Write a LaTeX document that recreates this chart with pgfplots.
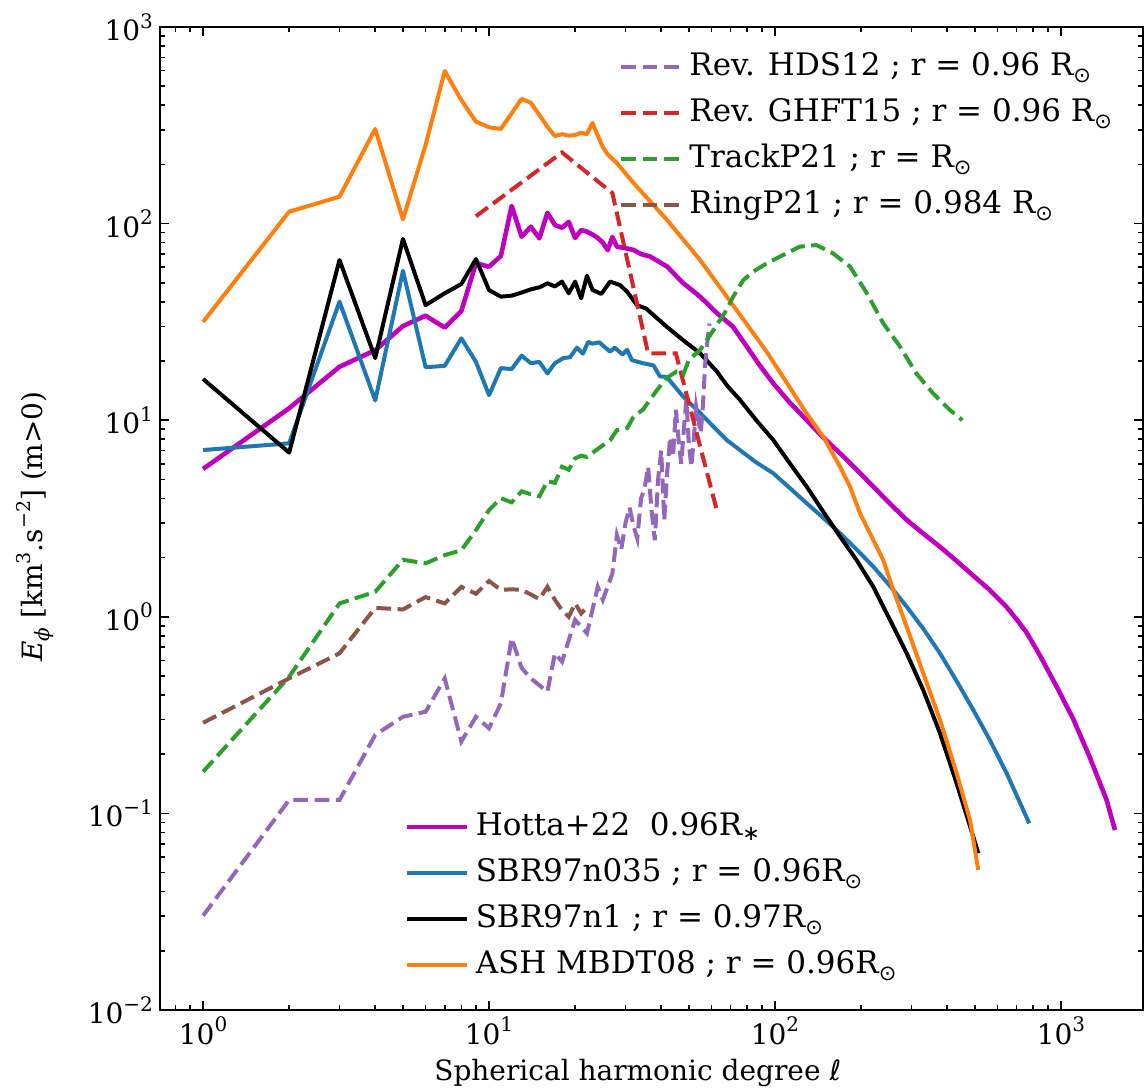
\documentclass[border=0pt]{standalone}
\usepackage{fontspec}
\setmainfont{DejaVu Serif}
\newfontfamily\dvs{DejaVu Sans}
\usepackage{pgfplots}
\pgfplotsset{compat=1.18}
\definecolor{cmag}{HTML}{BF00BF}
\definecolor{tblue}{HTML}{1F77B4}
\definecolor{torange}{HTML}{FF7F0E}
\definecolor{tpurple}{HTML}{9467BD}
\definecolor{tred}{HTML}{D62728}
\definecolor{tgreen}{HTML}{2CA02C}
\definecolor{tbrown}{HTML}{8C564B}
\newcommand{\sups}[1]{\raisebox{0.85ex}{\fontsize{10}{10}\selectfont #1}}
\newcommand{\lsup}[1]{\raisebox{0.8ex}{\fontsize{9.5}{9.5}\selectfont #1}}
\newcommand{\Rs}{R\raisebox{-0.45ex}{\dvs\fontsize{10.5}{10.5}\selectfont ⊙}}
\newcommand{\Rst}{R\raisebox{-0.3ex}{\dvs\fontsize{10.5}{10.5}\selectfont ∗}}
\tikzset{mysol/.style={line width=2pt, line join=round},
 mydsh/.style={line width=2pt, dash pattern=on 7.4pt off 3.2pt}}
\begin{document}
\begin{tikzpicture}
\begin{axis}[name=main,
  scale only axis, width=491.5pt, height=491.5pt,
  xmode=log, ymode=log,
  xmin=0.707, xmax=1936, ymin=1e-2, ymax=1e3,
  legend cell align=left,
  legend image code/.code={\draw[#1] (0pt,0pt) -- (30pt,0pt);},
  legend style={draw=none, fill=none, inner sep=0pt, row sep=6.5pt,
   font=\fontsize{15.5}{17}\selectfont,
   nodes={inner xsep=3pt, inner ysep=1pt, text height=11.5pt, text depth=3pt},
   at={(0.249,0.2034)}, anchor=north west},
  axis line style={line width=1pt},
  tick style={black, line width=0.8pt},
  major tick length=4.5pt, minor tick length=2.5pt,
  tick align=inside,
  xtick={1,10,100,1000},
  xticklabels={10\sups{0},10\sups{1},10\sups{2},10\sups{3}},
  minor xtick={0.8,0.9,2,3,4,5,6,7,8,9,20,30,40,50,60,70,80,90,200,300,400,500,600,700,800,900},
  ytick={0.01,0.1,1,10,100,1000},
  yticklabels={10\sups{−2},10\sups{−1},10\sups{0},10\sups{1},10\sups{2},10\sups{3}},
  minor ytick={0.02,0.03,0.04,0.05,0.06,0.07,0.08,0.09,0.2,0.3,0.4,0.5,0.6,0.7,0.8,0.9,2,3,4,5,6,7,8,9,20,30,40,50,60,70,80,90,200,300,400,500,600,700,800,900},
  ticklabel style={font=\fontsize{14}{16}\selectfont},
  xlabel={Spherical harmonic degree {\dvs ℓ}},
  ylabel={\textit{E}\raisebox{-0.5ex}{\fontsize{10}{10}\selectfont\textit{ϕ}} [km\lsup{3}.s\lsup{−2}] (m>0)},
  label style={font=\fontsize{14}{16}\selectfont},
  xlabel style={at={(axis description cs:0.486,-0.064)}, anchor=center},
  ylabel style={at={(axis description cs:-0.127,0.492)}, anchor=center},
]
% Hotta+22
\addplot[mysol, line width=2.3pt, cmag] coordinates {
(1,5.65)(2,11.5)(3,18.7)(4,22.7)(5,30.1)(6,34.0)(7,29.6)(8,35.9)(9,62.8)(10,60.4)
(11,68.4)(12,123)(13,85.8)(14,96.4)(15,84.2)(16,113.5)(17,98.4)(18,95.3)(19,102)(20,84.5)
(21,92.7)(22,91)(23,88)(24,84.5)(25,80)(26,73.3)(27,85.5)(28,76.3)(30,75)(32,73.5)
(34,70)(36.6,68)(42,60.4)(47.6,50)(54.7,42.5)(62.7,35)(71.3,29.9)(80,23.5)(88,19.2)
(98.6,15.4)(112,12.4)(129.1,10.0)(147,8.2)(168.8,6.79)(193,5.6)(220.7,4.59)(253,3.75)
(288.8,3.11)(330,2.65)(377.6,2.27)(432,1.92)(493.6,1.62)(560,1.38)(645.8,1.12)
(700,0.97)(759,0.83)(844.8,0.635)(966,0.441)(1104,0.302)(1263,0.192)(1444,0.117)(1545,0.0823)};
\addlegendentry{Hotta+22\ \ 0.96\Rst}
% SBR97n035
\addplot[mysol, tblue] coordinates {
(1,7.05)(2,7.63)(3,40.1)(4,12.6)(5,57.5)(6,18.6)(7,18.9)(8,26.1)(9,19.8)(10,13.4)
(11,18.4)(12,18.2)(13,21.3)(14,19.5)(15,19.8)(16,17.3)(17,19.5)(18.2,20.7)(19.2,20.9)
(20.3,23.4)(21.3,21.8)(22.2,25)(23,24.5)(24.3,24.9)(26.5,22.3)(27.5,23.4)(29.3,21.6)
(30.4,22.8)(31.6,20.2)(34.5,19.5)(37.6,19)(39.6,16.7)(41.8,16.6)(47.7,13.2)(54.7,10.9)
(62.6,8.9)(68,7.9)(75.4,7.05)(86,6.1)(98.6,5.37)(113,4.5)(129.1,3.78)(147,3.2)(168.8,2.66)
(193,2.2)(220.7,1.80)(253,1.43)(288.8,1.126)(330,0.87)(377.6,0.652)(432,0.47)(493.6,0.336)
(565,0.235)(645.8,0.160)(775,0.089)};
\addlegendentry{SBR97n035 ; r = 0.96\Rs}
% SBR97n1
\addplot[mysol, black] coordinates {
(1,16.2)(2,6.84)(3,65.3)(4,20.7)(5,83.6)(6,38.5)(7,44.2)(8,49.3)(9,66.0)(10,45.9)
(11,42.5)(12,43.0)(13,44.6)(14,46.3)(15,47.4)(16,49.7)(17,47.9)(18,50.7)(19,44.2)(20,50.7)
(21,41.7)(22,54.3)(23,46)(24.7,43.9)(26.5,50.7)(28.7,48.7)(30.4,45)(32.9,38.5)(35.4,37)
(41.8,29.9)(47.6,25.6)(54.7,21.9)(62.6,17.7)(68,15.0)(75.4,12.7)(86,10.0)(98.6,7.93)
(113,6.0)(129.1,4.59)(147,3.45)(168.8,2.56)(193.1,1.94)(220.7,1.42)(252.5,0.963)
(288.8,0.652)(329.9,0.424)(377.6,0.2556)(431.8,0.142)(493.6,0.0761)(513.7,0.0627)};
\addlegendentry{SBR97n1 ; r = 0.97\Rs}
% ASH MBDT08
\addplot[mysol, torange] coordinates {
(1,31.6)(2,115)(3,137)(4,303)(5,105)(6,251)(7,597)(8,425)(9,330)(10,309)
(11,303)(12,364)(13,431)(14,412)(15,357)(16,311)(17,279)(18,285)(19,280)(20,282)
(21,290)(22,285)(23,325)(24,280)(25,245)(26,225)(28,203)(32,161)(42,104)(54.7,65.3)
(71.3,38.5)(93.7,22.2)(108.4,16.0)(129.1,10.8)(147.5,8.24)(168.8,5.80)(182.9,4.59)
(198.3,3.36)(220.7,2.46)(239.2,1.94)(259.2,1.37)(288.8,0.890)(329.9,0.516)(377.6,0.2987)
(431.8,0.160)(480.7,0.0926)(513.7,0.0516)};
\addlegendentry{ASH MBDT08 ; r = 0.96\Rs}
\end{axis}
\begin{axis}[hide axis,
  scale only axis, width=491.5pt, height=491.5pt,
  xmode=log, ymode=log,
  xmin=0.707, xmax=1936, ymin=1e-2, ymax=1e3,
  legend cell align=left,
  legend image code/.code={\draw[#1] (0pt,0pt) -- (30pt,0pt);},
  legend style={draw=none, fill=none, inner sep=0pt, row sep=6.5pt,
   font=\fontsize{15.5}{17}\selectfont,
   nodes={inner xsep=3pt, inner ysep=1pt, text height=11.5pt, text depth=3pt},
   at={(0.467,0.9766)}, anchor=north west}]
% Rev. HDS12
\addplot[mydsh, tpurple] coordinates {
(1,0.0302)(2,0.117)(3,0.117)(4,0.251)(5,0.310)(6,0.329)(7,0.486)(8,0.232)(9,0.310)(10,0.271)
(11,0.363)(12,0.778)(13,0.55)(14,0.486)(16,0.416)(17,0.652)(18,0.591)(20,0.964)(22,0.824)
(24,1.42)(25,1.22)(27,1.66)(28,2.6)(29,2.2)(30,3.0)(31,3.6)(32,2.9)(33,2.5)(34,4.0)(35,4.5)
(36,5.8)(37,3.5)(38,2.45)(39,5.0)(40,7.0)(41,3.1)(42,5.5)(43,8.2)(44,6.5)(45,11.3)(46,8.0)
(47,6.0)(48,9.0)(49,12.7)(50,7.5)(51,5.8)(52,8.0)(53,11.7)(54,10.0)(55,8.6)(56,12.0)
(57,19.4)(58,25)(59,31)};
\addlegendentry{Rev. HDS12 ; r = 0.96 \Rs}
% Rev. GHFT15
\addplot[mydsh, tred] coordinates {(9,109)(18,230)(27,143)(36,21.9)(45,21.9)(63,3.36)};
\addlegendentry{Rev. GHFT15 ; r = 0.96 \Rs}
% TrackP21
\addplot[mydsh, tgreen] coordinates {
(1,0.163)(2,0.495)(3,1.17)(4,1.34)(5,1.95)(6,1.87)(7,2.06)(8,2.18)(9,2.76)(10,3.49)
(11,4.01)(12,3.82)(13,4.35)(14,4.2)(15,4.1)(16,4.9)(17,4.8)(18,5.8)(19,5.6)(20,6.4)
(21,6.6)(22,6.5)(24.5,7.3)(26.5,7.9)(28,8.9)(30.4,9.1)(32,10.4)(34.5,11.3)(38.5,14.1)
(41.8,16.4)(45.3,17.7)(47.8,17.1)(50,20.3)(54.7,22.7)(61,28.8)(67.7,36.4)(71.4,42.5)
(77.5,51.6)(83.8,56.9)(93.6,62.8)(106.7,69.2)(122,76.3)(139.5,77.8)(159.5,70.6)(183,60.4)
(209.6,44.2)(239,31.1)(273.5,23.7)(312,17.3)(357,13.7)(408,11.3)(452,10.0)};
\addlegendentry{TrackP21 ; r = \Rs}
% RingP21
\addplot[mydsh, tbrown] coordinates {
(1,0.289)(2,0.486)(3,0.652)(4,1.11)(5,1.09)(6,1.26)(7,1.17)(8,1.42)(9,1.31)(10,1.52)
(11,1.37)(12,1.38)(13,1.37)(14,1.30)(15,1.23)(16,1.42)(17,1.22)(18,1.08)(19,1.00)(20,1.17)
(21,1.04)(22,1.12)};
\addlegendentry{RingP21 ; r = 0.984 \Rs}
\end{axis}
\pgfresetboundingbox
\path (main.south west) ++(-80pt,-39pt) rectangle ++(573.5pt,544pt);
\end{tikzpicture}
\end{document}
